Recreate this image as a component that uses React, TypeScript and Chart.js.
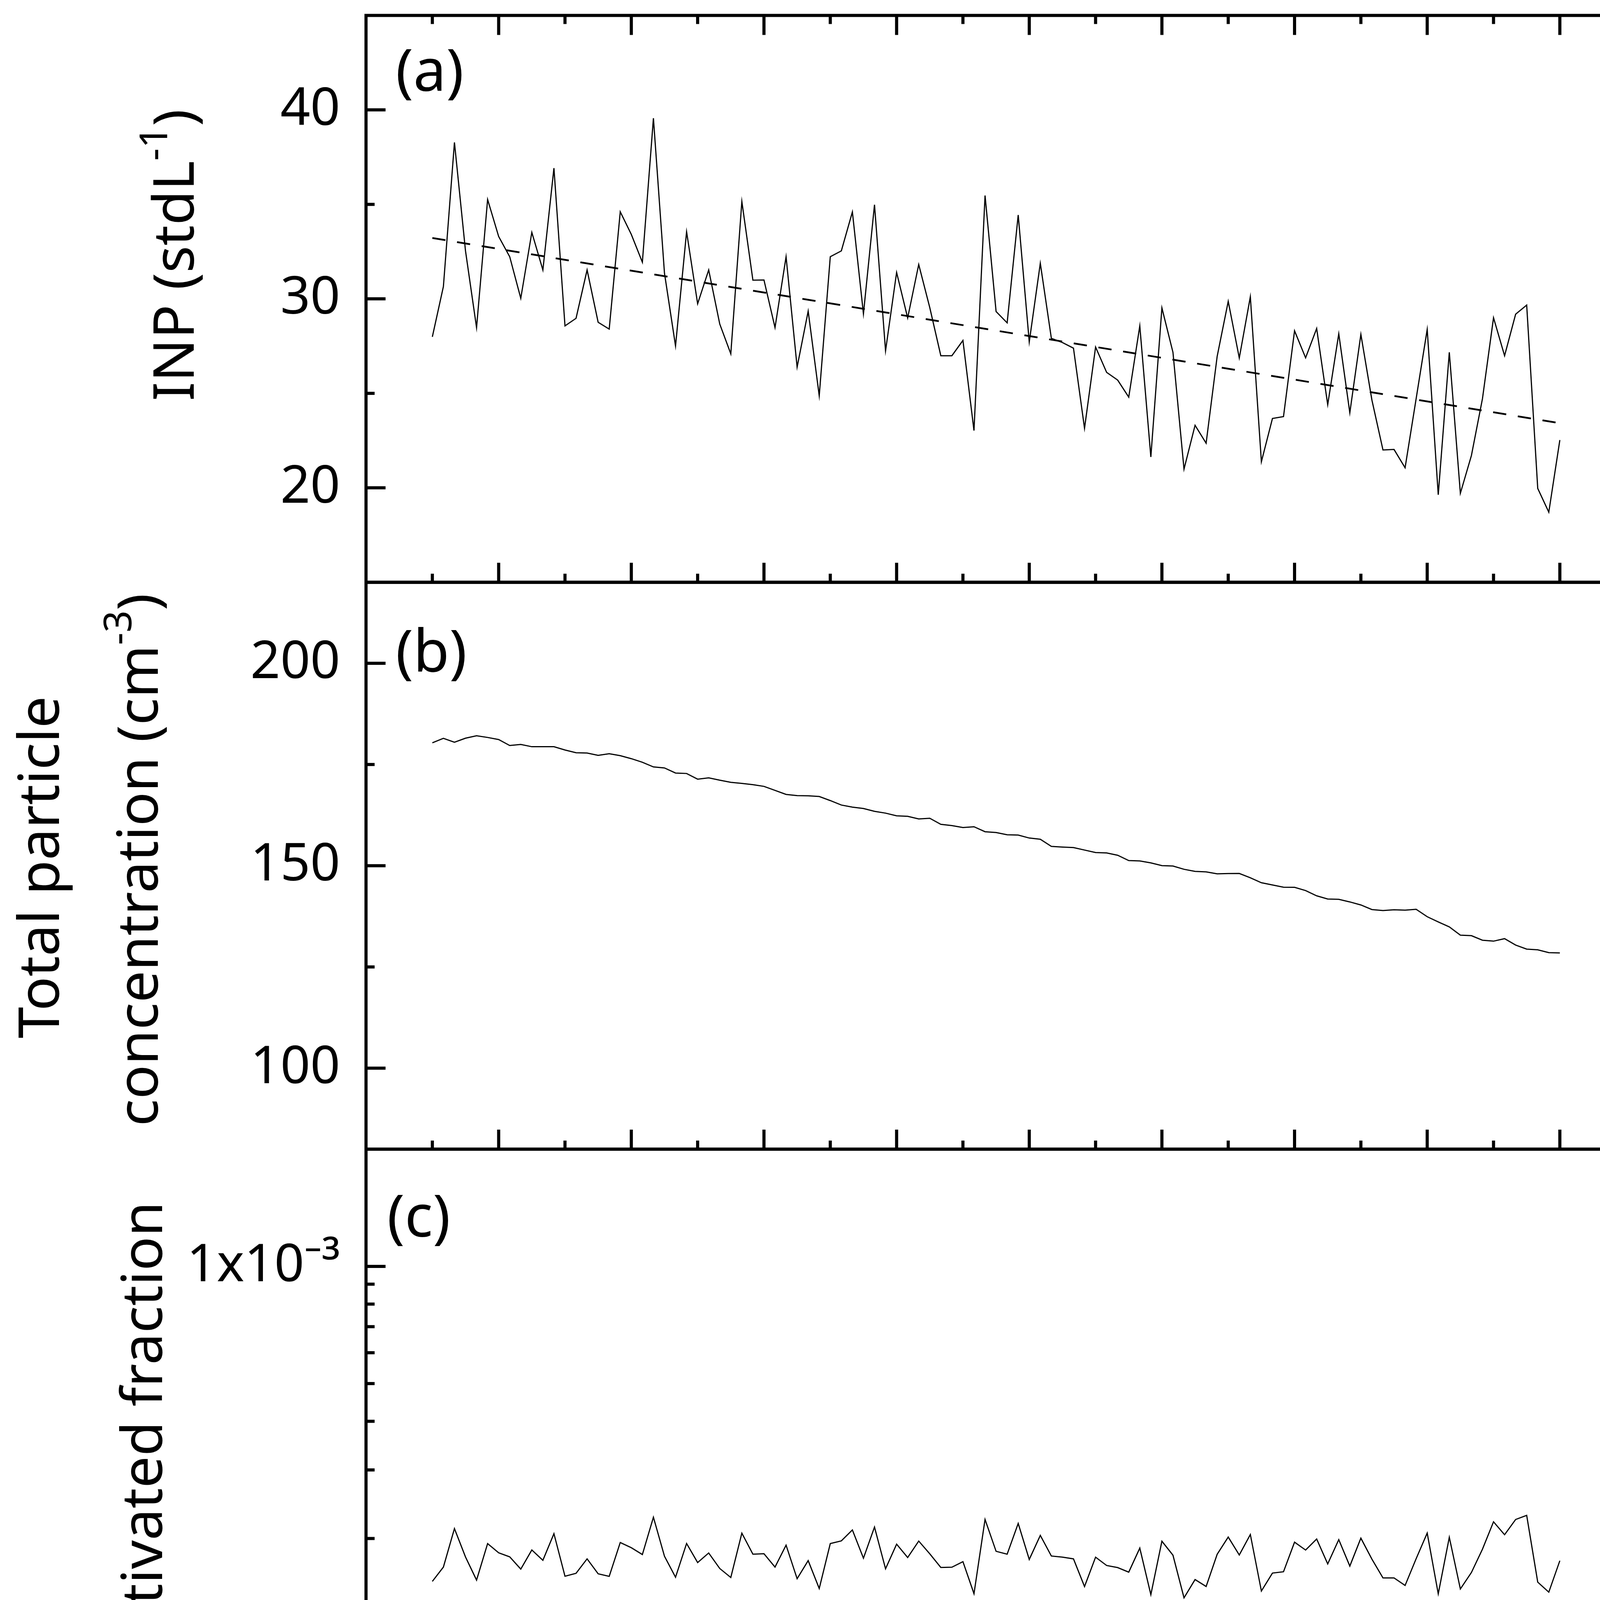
import React, { useEffect, useRef } from "react";
import Chart from "chart.js/auto";

const FONT = '"Noto Sans", "DejaVu Sans", sans-serif';
const TICK_SIZE = 134;
const TITLE_SIZE = 145;
const LETTER_SIZE = 150;
const MAJOR_LEN = 50;
const MINOR_LEN = 22;

// one sample every 5 min, starting at 22:30 (minute 0)
const SAMPLE_STEP_MIN = 5;

// (a) INP concentration, stdL-1
const inp = [
  27.99, 30.65, 38.28, 32.54, 28.48, 35.26, 33.3, 32.23, 30.03, 33.52,
  31.53, 36.92, 28.57, 28.97, 31.53, 28.76, 28.4, 34.61, 33.41, 31.94,
  39.56, 31.36, 27.51, 33.55, 29.74, 31.53, 28.67, 27.09, 35.15, 30.99,
  31.0, 28.48, 32.23, 26.39, 29.35, 24.87, 32.23, 32.54, 34.6, 29.21,
  34.98, 27.25, 31.4, 28.99, 31.82, 29.54, 26.99, 26.99, 27.8, 23.03,
  35.47, 29.33, 28.73, 34.44, 27.72, 31.88, 27.91, 27.69, 27.39, 23.15,
  27.45, 26.11, 25.7, 24.8, 28.57, 21.63, 29.52, 27.17, 20.99, 23.31,
  22.36, 26.96, 29.87, 26.87, 30.11, 21.38, 23.67, 23.77, 28.31, 26.88,
  28.43, 24.4, 28.15, 23.97, 28.12, 24.64, 22.0, 22.03, 21.06, 24.72,
  28.38, 19.63, 27.17, 19.71, 21.71, 24.72, 29.0, 26.99, 29.19, 29.67,
  19.97, 18.71, 22.53,
];

// linear trend of INP (dashed)
const trendMinutes = [0, 510];
const trendInp = [33.22, 23.42];

// (b) total particle concentration, cm-3
const totalParticles = [
  180.35, 181.46, 180.5, 181.5, 182.09, 181.68, 181.17, 179.69, 179.95, 179.39,
  179.39, 179.39, 178.58, 177.91, 177.84, 177.25, 177.66, 177.18, 176.44, 175.55,
  174.4, 174.15, 172.89, 172.78, 171.38, 171.71, 171.12, 170.6, 170.34, 170.01,
  169.6, 168.61, 167.61, 167.31, 167.28, 167.09, 166.09, 164.99, 164.47, 164.14,
  163.43, 162.99, 162.33, 162.21, 161.55, 161.73, 160.22, 159.92, 159.44, 159.63,
  158.4, 158.2, 157.64, 157.58, 156.84, 156.54, 154.77, 154.61, 154.48, 153.87,
  153.25, 153.16, 152.58, 151.28, 151.19, 150.7, 150.03, 149.93, 149.12, 148.61,
  148.48, 148.0, 148.06, 148.09, 147.03, 145.8, 145.25, 144.7, 144.67, 143.86,
  142.57, 141.77, 141.7, 141.06, 140.31, 139.18, 138.93, 139.12, 139.02, 139.25,
  137.41, 136.12, 134.89, 132.86, 132.73, 131.6, 131.37, 131.99, 130.41, 129.41,
  129.24, 128.53, 128.47,
];

// (c) activated fraction
const activatedFraction = [
  1.552e-4, 1.689e-4, 2.121e-4, 1.793e-4, 1.564e-4, 1.941e-4, 1.838e-4, 1.794e-4, 1.669e-4, 1.869e-4,
  1.758e-4, 2.058e-4, 1.6e-4, 1.628e-4, 1.773e-4, 1.623e-4, 1.599e-4, 1.953e-4, 1.894e-4, 1.819e-4,
  2.268e-4, 1.801e-4, 1.591e-4, 1.942e-4, 1.735e-4, 1.836e-4, 1.675e-4, 1.588e-4, 2.064e-4, 1.823e-4,
  1.828e-4, 1.689e-4, 1.923e-4, 1.577e-4, 1.755e-4, 1.488e-4, 1.941e-4, 1.972e-4, 2.104e-4, 1.78e-4,
  2.14e-4, 1.672e-4, 1.934e-4, 1.787e-4, 1.97e-4, 1.827e-4, 1.685e-4, 1.688e-4, 1.744e-4, 1.443e-4,
  2.239e-4, 1.854e-4, 1.823e-4, 2.186e-4, 1.767e-4, 2.037e-4, 1.803e-4, 1.791e-4, 1.773e-4, 1.505e-4,
  1.791e-4, 1.705e-4, 1.684e-4, 1.639e-4, 1.89e-4, 1.435e-4, 1.968e-4, 1.812e-4, 1.408e-4, 1.569e-4,
  1.506e-4, 1.822e-4, 2.017e-4, 1.814e-4, 2.048e-4, 1.466e-4, 1.63e-4, 1.643e-4, 1.957e-4, 1.868e-4,
  1.994e-4, 1.721e-4, 1.987e-4, 1.699e-4, 2.004e-4, 1.77e-4, 1.584e-4, 1.584e-4, 1.515e-4, 1.775e-4,
  2.065e-4, 1.442e-4, 2.014e-4, 1.484e-4, 1.636e-4, 1.878e-4, 2.208e-4, 2.045e-4, 2.238e-4, 2.293e-4,
  1.545e-4, 1.456e-4, 1.754e-4,
];

// x axis: minutes after 22:30
const timeLabels = ["22:30", "23:30", "00:30", "01:30", "02:30", "03:30", "04:30", "05:30", "06:30", "07:30"];
const labelMinutes = [0, 60, 120, 180, 240, 300, 360, 420, 480, 540];
const hourMinutes = [30, 90, 150, 210, 270, 330, 390, 450, 510];

const inpMajor = [20, 30, 40];
const inpMinor = [25, 35];
const totalMajor = [100, 150, 200];
const totalMinor = [125, 175];
const afMajor = [1e-4, 1e-3];
const afMinor = [8e-5, 9e-5, 2e-4, 3e-4, 4e-4, 5e-4, 6e-4, 7e-4, 8e-4, 9e-4];
const afLabels = ["1x10⁻⁴", "1x10⁻³"];

type TextPart = { text: string; sup?: boolean };
type TitleLine = { parts: TextPart[]; dx: number; dy: number };

const panels: {
  id: string;
  letter: string;
  letterDx: number;
  letterDy: number;
  major: number[];
  minor: number[];
  topTicks: boolean;
  title: TitleLine[];
}[] = [
  {
    id: "yA",
    letter: "(a)",
    letterDx: 76,
    letterDy: 193,
    major: inpMajor,
    minor: inpMinor,
    topTicks: true,
    title: [{ parts: [{ text: "INP (stdL" }, { text: "-1", sup: true }, { text: ")" }], dx: 441, dy: -112 }],
  },
  {
    id: "yB",
    letter: "(b)",
    letterDx: 76,
    letterDy: 229,
    major: totalMajor,
    minor: totalMinor,
    topTicks: false,
    title: [
      { parts: [{ text: "Total particle" }], dx: 786, dy: 4 },
      { parts: [{ text: "concentration (cm" }, { text: "-3", sup: true }, { text: ")" }], dx: 533, dy: -15 },
    ],
  },
  {
    id: "yC",
    letter: "(c)",
    letterDx: 54,
    letterDy: 224,
    major: afMajor,
    minor: afMinor,
    topTicks: false,
    title: [{ parts: [{ text: "Activated fraction" }], dx: 522, dy: 5 }],
  },
];

function drawVerticalRichText(ctx: CanvasRenderingContext2D, parts: TextPart[], baselineX: number, centerY: number, size: number) {
  const supSize = Math.round(size * 0.68);
  const fontFor = (p: TextPart) => `${p.sup ? supSize : size}px ${FONT}`;
  const widths = parts.map((p) => {
    ctx.font = fontFor(p);
    return ctx.measureText(p.text).width;
  });
  const total = widths.reduce((a, b) => a + b, 0);
  ctx.save();
  ctx.translate(baselineX, centerY + total / 2);
  ctx.rotate(-Math.PI / 2);
  ctx.textAlign = "left";
  ctx.textBaseline = "alphabetic";
  let cursor = 0;
  parts.forEach((p, i) => {
    ctx.font = fontFor(p);
    ctx.fillText(p.text, cursor, p.sup ? -size * 0.47 : 0);
    cursor += widths[i];
  });
  ctx.restore();
}

function line(ctx: CanvasRenderingContext2D, x1: number, y1: number, x2: number, y2: number) {
  ctx.beginPath();
  ctx.moveTo(x1, y1);
  ctx.lineTo(x2, y2);
  ctx.stroke();
}

// frames, inward ticks, panel letters and axis titles
const panelFrames = {
  id: "panelFrames",
  beforeDraw(chart: any) {
    const { ctx, width, height } = chart;
    ctx.save();
    ctx.fillStyle = "#fff";
    ctx.fillRect(0, 0, width, height);
    ctx.restore();
  },
  afterDraw(chart: any) {
    const { ctx, chartArea } = chart;
    const xScale = chart.scales.x;
    const { left, right } = chartArea;
    ctx.save();
    ctx.strokeStyle = "#000";
    ctx.fillStyle = "#000";
    ctx.lineWidth = 8;
    ctx.lineCap = "butt";

    panels.forEach((p) => {
      const s = chart.scales[p.id];
      const top = s.top;
      const bottom = s.bottom;
      ctx.strokeRect(left, top, right - left, bottom - top);

      const yTicks = (vals: number[], len: number) =>
        vals.forEach((v) => {
          const y = s.getPixelForValue(v);
          line(ctx, left, y, left + len, y);
          line(ctx, right, y, right - len, y);
        });
      yTicks(p.major, MAJOR_LEN);
      yTicks(p.minor, MINOR_LEN);

      const xTicks = (vals: number[], len: number) =>
        vals.forEach((v) => {
          const x = xScale.getPixelForValue(v);
          line(ctx, x, bottom, x, bottom - len);
          if (p.topTicks) line(ctx, x, top, x, top + len);
        });
      xTicks(hourMinutes, MAJOR_LEN);
      xTicks(labelMinutes, MINOR_LEN);

      ctx.font = `${LETTER_SIZE}px ${FONT}`;
      ctx.textAlign = "left";
      ctx.textBaseline = "alphabetic";
      ctx.fillText(p.letter, left + p.letterDx, top + p.letterDy);

      const mid = (top + bottom) / 2;
      p.title.forEach((t) => drawVerticalRichText(ctx, t.parts, left - t.dx, mid + t.dy, TITLE_SIZE));
    });
    ctx.restore();
  },
};

const tickFont = { family: FONT, size: TICK_SIZE };

const panelAxis = (min: number, max: number, weight: number, tickVals: number[], log = false) => ({
  type: log ? "logarithmic" : "linear",
  position: "left",
  stack: "panels",
  stackWeight: 1,
  weight,
  min,
  max,
  grid: { display: false, drawTicks: false },
  border: { display: false },
  ticks: {
    autoSkip: false,
    padding: 66,
    color: "#000",
    font: tickFont,
    callback: (value: number, index: number) => (log ? afLabels[index] : String(value)),
  },
  afterBuildTicks: (axis: any) => {
    axis.ticks = tickVals.map((value) => ({ value }));
  },
  afterFit: (axis: any) => {
    axis.width = 937;
    axis.paddingTop = 0;
    axis.paddingBottom = 0;
  },
});

const App: React.FC = () => {
  const chartRef = useRef<HTMLCanvasElement>(null);
  const chartInstance = useRef<Chart | null>(null);

  useEffect(() => {
    if (!chartRef.current) return;
    if (chartInstance.current) chartInstance.current.destroy();

    const sampleMinutes = inp.map((_, i) => i * SAMPLE_STEP_MIN);
    const toPoints = (values: number[]) => values.map((y, i) => ({ x: sampleMinutes[i], y }));
    const lineStyle = { borderColor: "#000", borderWidth: 3, pointRadius: 0, tension: 0, fill: false };

    chartInstance.current = new Chart(chartRef.current, {
      type: "line",
      data: {
        datasets: [
          { label: "INP", data: toPoints(inp), yAxisID: "yA", ...lineStyle },
          {
            label: "INP trend",
            data: trendMinutes.map((x, i) => ({ x, y: trendInp[i] })),
            yAxisID: "yA",
            ...lineStyle,
            borderWidth: 4.5,
            borderDash: [34, 30],
          },
          { label: "Total particle concentration", data: toPoints(totalParticles), yAxisID: "yB", ...lineStyle },
          { label: "Activated fraction", data: toPoints(activatedFraction), yAxisID: "yC", ...lineStyle },
        ],
      },
      options: {
        animation: false,
        responsive: true,
        maintainAspectRatio: false,
        events: [],
        layout: { padding: { top: 39.5, right: 42, bottom: 0, left: 0 } },
        plugins: { legend: { display: false }, tooltip: { enabled: false } },
        scales: {
          x: {
            type: "linear",
            position: "bottom",
            min: -30,
            max: 540,
            grid: { display: false, drawTicks: false },
            border: { display: false },
            ticks: {
              autoSkip: false,
              minRotation: 60,
              maxRotation: 60,
              padding: 88,
              labelOffset: -90,
              color: "#000",
              font: tickFont,
              callback: (_value: number, index: number) => timeLabels[index],
            },
            afterBuildTicks: (axis: any) => {
              axis.ticks = labelMinutes.map((value) => ({ value }));
            },
            afterFit: (axis: any) => {
              axis.height = 468;
              axis.paddingLeft = 0;
              axis.paddingRight = 0;
            },
          },
          yA: panelAxis(15, 45, 3, inpMajor),
          yB: panelAxis(80, 220, 2, totalMajor),
          yC: panelAxis(7e-5, 2e-3, 1, afMajor, true),
        } as any,
      },
      plugins: [panelFrames],
    });

    return () => {
      if (chartInstance.current) {
        chartInstance.current.destroy();
        chartInstance.current = null;
      }
    };
  }, []);

  return (
    <div style={{ position: "absolute", left: 0, top: 0, width: "4205px", height: "4861px", background: "#fff" }}>
      <canvas ref={chartRef}></canvas>
    </div>
  );
};

export default App;
